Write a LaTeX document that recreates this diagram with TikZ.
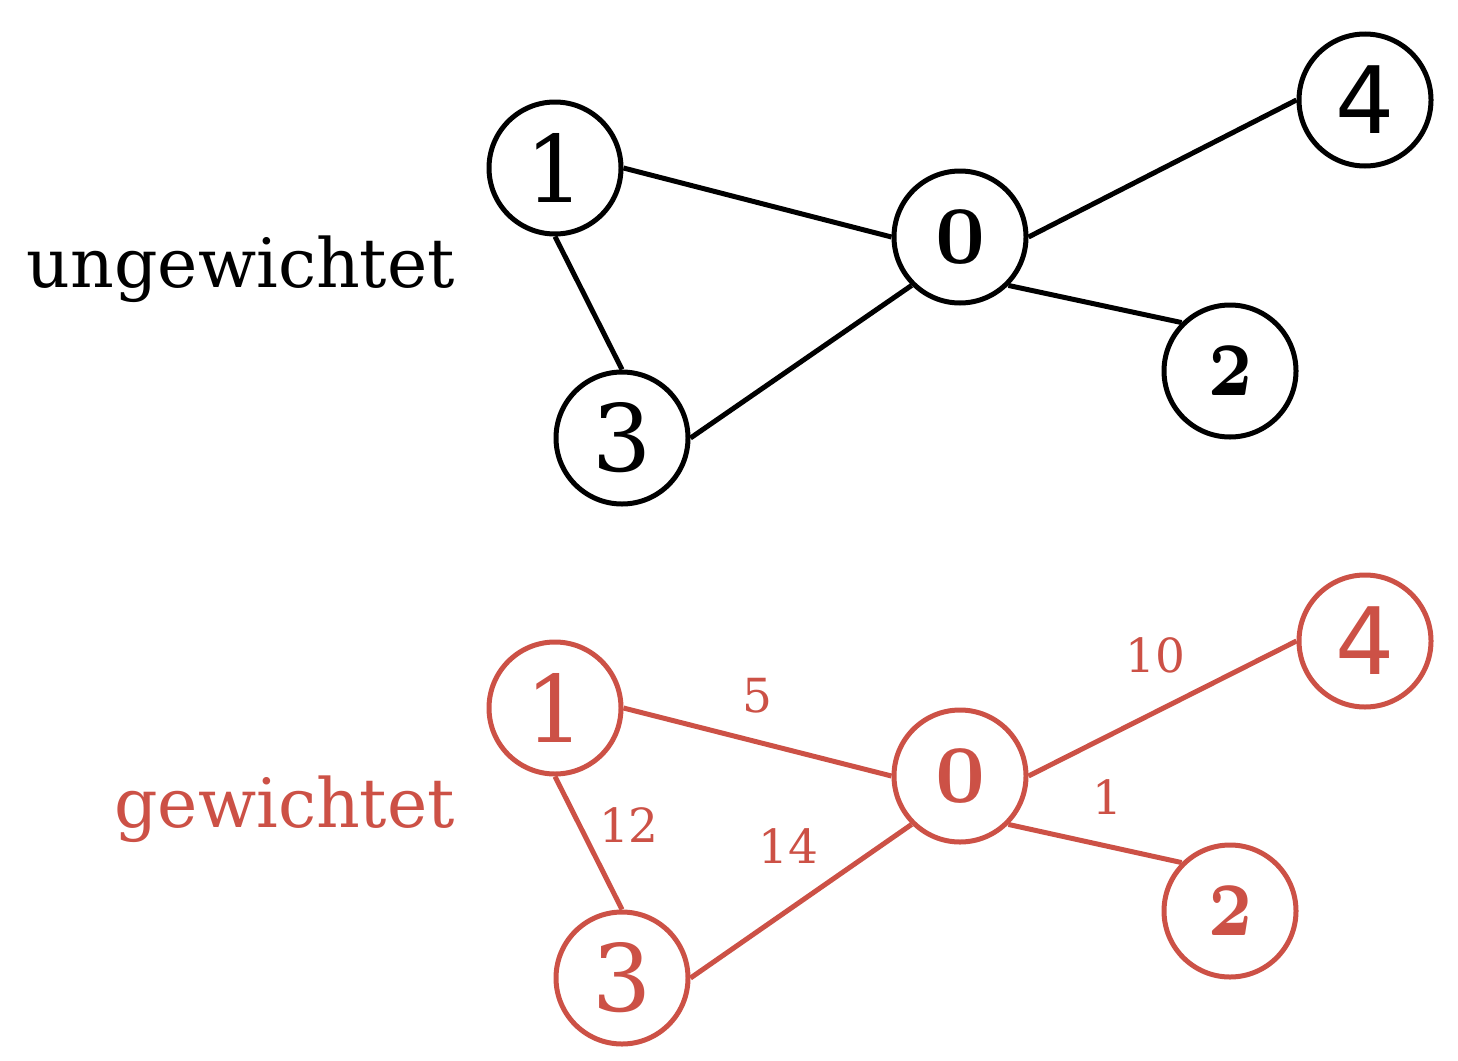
\documentclass[tikz,border=0pt]{standalone}
\usepackage{fontspec}
\usepackage{graphicx}
\setmainfont{DejaVu Serif}
\newfontfamily\sansdigit{DejaVu Sans}
\definecolor{wred}{RGB}{204,81,70}
\newcommand{\osz}{\resizebox{50pt}{51pt}{\usefont{OML}{cmm}{b}{it}0}}
\newcommand{\ost}{\resizebox{44pt}{48pt}{\usefont{OML}{cmm}{b}{it}2}}
\tikzset{
  vtx/.style={circle, draw, line width=5pt, minimum size=132pt, inner sep=0pt, font=\fontsize{93}{93}\selectfont},
  edg/.style={line width=5pt},
  lbl/.style={anchor=base east, inner sep=0pt, font=\fontsize{68}{68}\selectfont},
  wlbl/.style={font=\fontsize{47}{47}\selectfont, text=wred, inner sep=0pt},
}
\begin{document}
\begin{tikzpicture}[x=1pt,y=-1pt]
\useasboundingbox (0,0) rectangle (1458,1060);
% unweighted
\begin{scope}
\node[vtx] (u1) at (555,168) {1};
\node[vtx] (u0) at (960,237) {\osz};
\node[vtx] (u4) at (1365,100) {\sansdigit 4};
\node[vtx] (u2) at (1230,371) {\ost};
\node[vtx] (u3) at (622,438) {3};
\node[lbl] (ul) at (455,287) {ungewichtet};
\draw[edg] (u1.east) -- (u0.west);
\draw[edg] (u0.east) -- (u4.west);
\draw[edg] (u1.south) -- (u3.north);
\draw[edg] (u3.east) -- (u0.south west);
\draw[edg] (u0.south east) -- (u2.north west);
\end{scope}
% weighted
\begin{scope}[wred]
\node[vtx, draw=wred, text=wred] (w1) at (555,708) {1};
\node[vtx, draw=wred, text=wred] (w0) at (960,776) {\osz};
\node[vtx, draw=wred, text=wred] (w4) at (1365,641) {\sansdigit 4};
\node[vtx, draw=wred, text=wred] (w2) at (1230,911) {\ost};
\node[vtx, draw=wred, text=wred] (w3) at (622,978) {3};
\node[lbl, text=wred] (wl) at (455,827) {gewichtet};
\draw[edg, wred] (w1.east) -- (w0.west);
\draw[edg, wred] (w0.east) -- (w4.west);
\draw[edg, wred] (w1.south) -- (w3.north);
\draw[edg, wred] (w3.east) -- (w0.south west);
\draw[edg, wred] (w0.south east) -- (w2.north west);
\node[wlbl] (l5) at (757,696) {5};
\node[wlbl] (l10) at (1155,655) {10};
\node[wlbl] (l1) at (1107,797) {1};
\node[wlbl] (l12) at (629,825) {12};
\node[wlbl] (l14) at (788,846) {14};
\end{scope}
\end{tikzpicture}
\end{document}
